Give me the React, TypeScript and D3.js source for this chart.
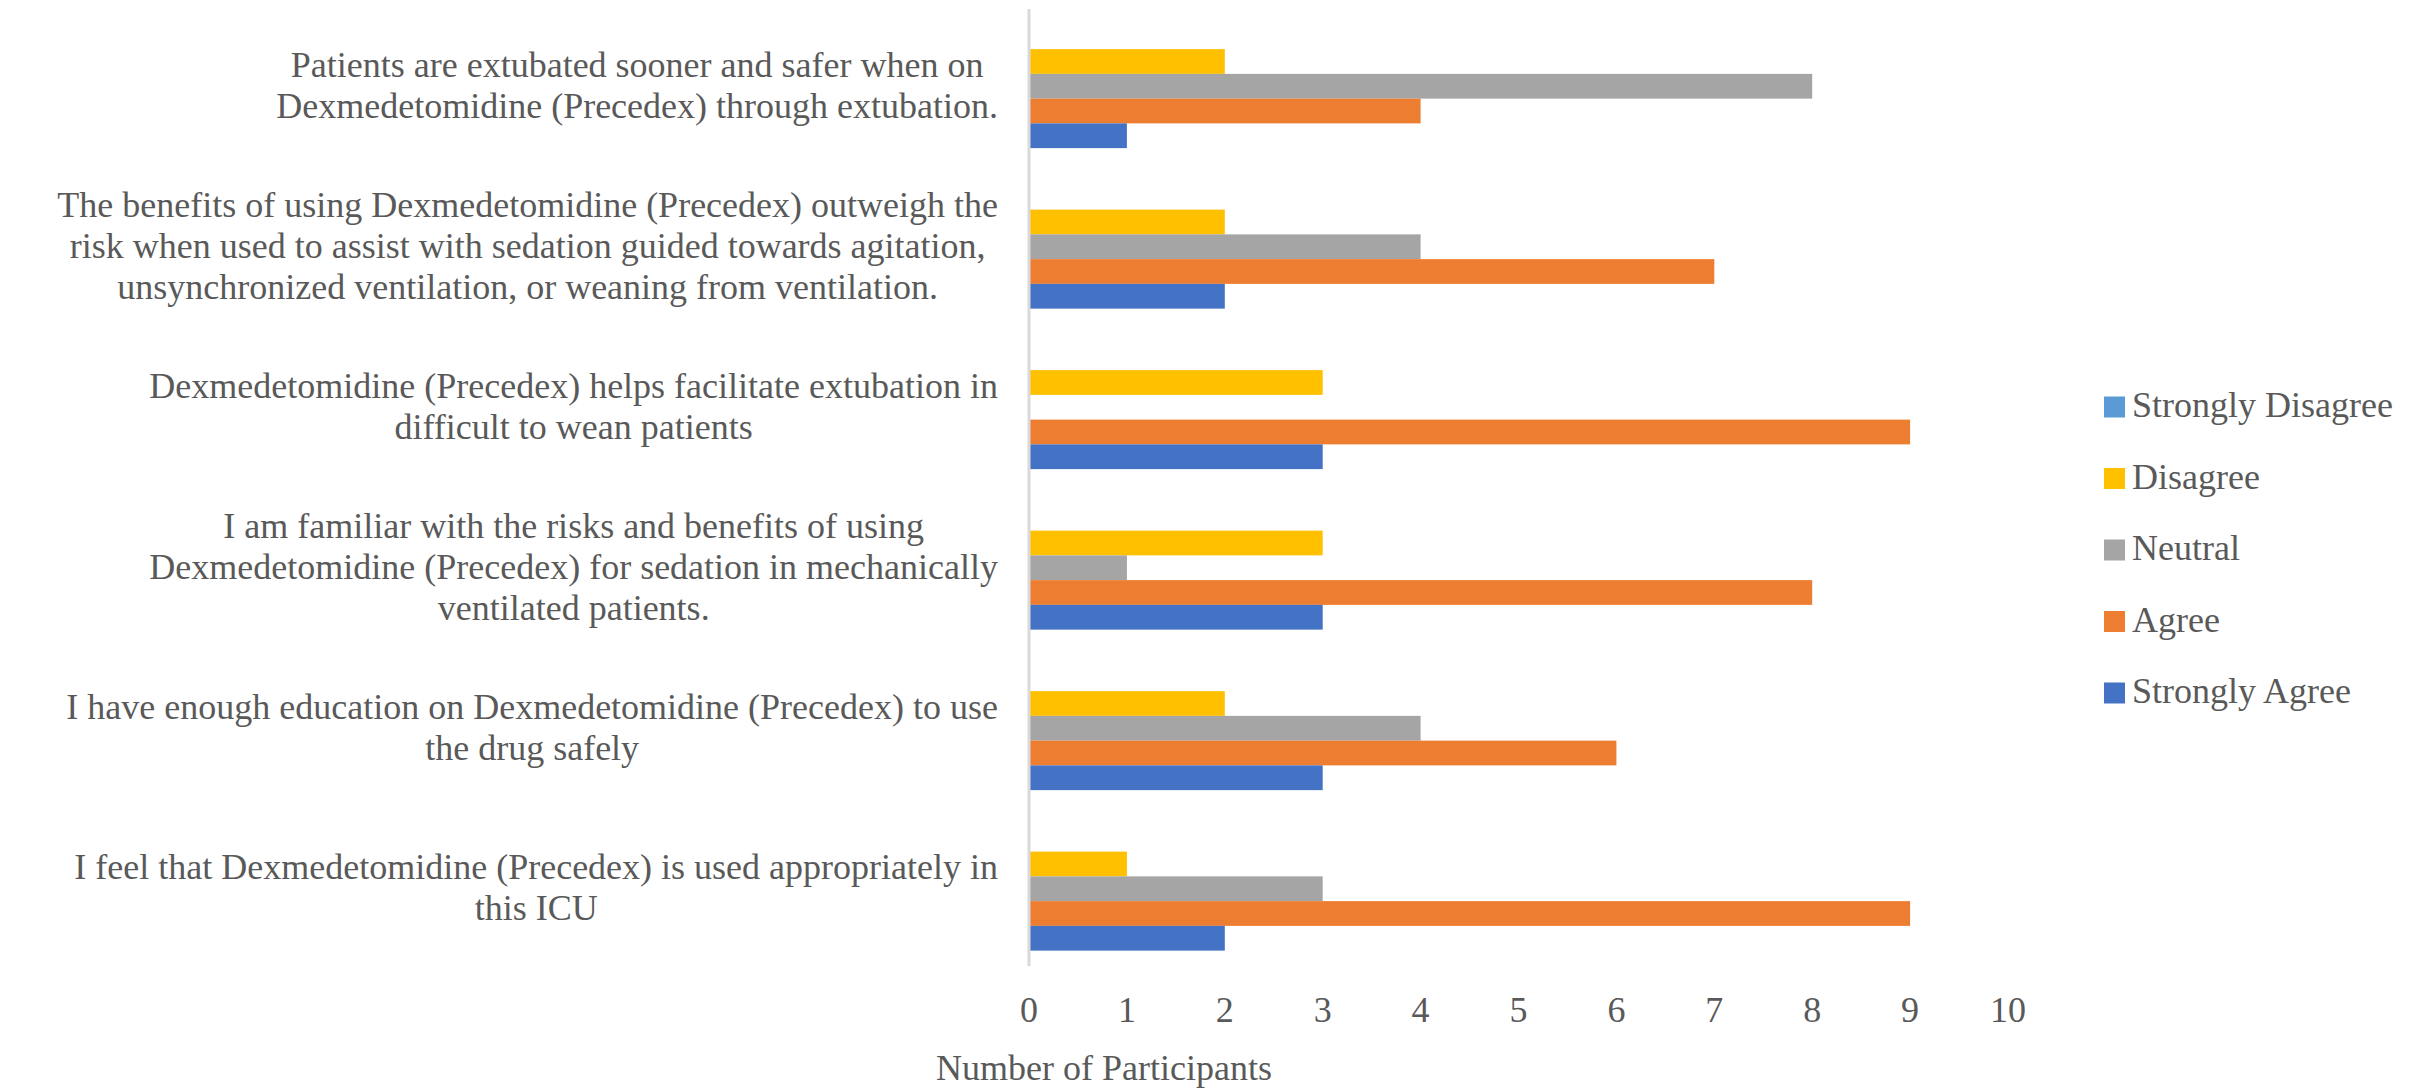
import { useEffect, useRef } from "react";
import * as d3 from "d3";

// Statements, top to bottom, already broken into lines as in the source chart
const CATEGORIES: string[][] = [
  ["Patients are extubated sooner and safer when on", "Dexmedetomidine (Precedex) through extubation."],
  [
    "The benefits of using Dexmedetomidine (Precedex) outweigh the",
    "risk when used to assist with sedation guided towards agitation,",
    "unsynchronized ventilation, or weaning from ventilation.",
  ],
  ["Dexmedetomidine (Precedex) helps facilitate extubation in", "difficult to wean patients"],
  [
    "I am familiar with the risks and benefits of using",
    "Dexmedetomidine (Precedex) for sedation in mechanically",
    "ventilated patients.",
  ],
  ["I have enough education on Dexmedetomidine (Precedex) to use", "the drug safely"],
  ["I feel that Dexmedetomidine (Precedex) is used appropriately in", "this ICU"],
];

// Series in the order they are stacked inside each group (top to bottom) and in the legend
const SERIES = ["Strongly Disagree", "Disagree", "Neutral", "Agree", "Strongly Agree"];
const SERIES_COLORS = ["#5B9BD5", "#FFC000", "#A5A5A5", "#ED7D31", "#4472C4"];

const STRONGLY_DISAGREE = [0, 0, 0, 0, 0, 0];
const DISAGREE = [2, 2, 3, 3, 2, 1];
const NEUTRAL = [8, 4, 0, 1, 4, 3];
const AGREE = [4, 7, 9, 8, 6, 9];
const STRONGLY_AGREE = [1, 2, 3, 3, 3, 2];

const X_TICKS = [0, 1, 2, 3, 4, 5, 6, 7, 8, 9, 10];
const X_LABEL = "Number of Participants";

const WIDTH = 2417;
const HEIGHT = 1091;
const PLOT = { left: 1029, right: 2008, top: 6, bottom: 969 };
const FONT = "'Liberation Serif', 'Times New Roman', serif";
const TEXT_COLOR = "#595959";

export default function App() {
  const svgRef = useRef<SVGSVGElement>(null);

  useEffect(() => {
    const svg = d3.select(svgRef.current);
    svg.selectAll("*").remove();

    svg.append("rect").attr("width", WIDTH).attr("height", HEIGHT).attr("fill", "#ffffff");

    const values = [STRONGLY_DISAGREE, DISAGREE, NEUTRAL, AGREE, STRONGLY_AGREE];

    const xScale = d3.scaleLinear().domain([0, 10]).range([PLOT.left, PLOT.right]);

    const yScale = d3
      .scaleBand<number>()
      .domain(d3.range(CATEGORIES.length))
      .range([PLOT.top, PLOT.bottom]);

    const bw = yScale.bandwidth();
    const gap = bw * 0.229;
    const subScale = d3
      .scaleBand<number>()
      .domain(d3.range(SERIES.length))
      .range([gap / 2, bw - gap / 2]);

    // Bars
    CATEGORIES.forEach((_, ci) => {
      const y0 = yScale(ci) ?? 0;
      SERIES.forEach((_, si) => {
        const v = values[si][ci];
        if (v <= 0) return;
        svg
          .append("rect")
          .attr("x", xScale(0))
          .attr("y", y0 + (subScale(si) ?? 0))
          .attr("width", xScale(v) - xScale(0))
          .attr("height", subScale.bandwidth())
          .attr("fill", SERIES_COLORS[si]);
      });
    });

    // Vertical axis line
    svg
      .append("line")
      .attr("x1", xScale(0))
      .attr("x2", xScale(0))
      .attr("y1", PLOT.top + 3)
      .attr("y2", PLOT.bottom - 3)
      .attr("stroke", "#d9d9d9")
      .attr("stroke-width", 3);

    // X tick labels
    X_TICKS.forEach((t) => {
      svg
        .append("text")
        .attr("x", xScale(t))
        .attr("y", 1022)
        .attr("text-anchor", "middle")
        .attr("font-size", "36px")
        .attr("font-family", FONT)
        .attr("fill", TEXT_COLOR)
        .text(String(t));
    });

    // X axis title
    svg
      .append("text")
      .attr("x", 1104)
      .attr("y", 1080)
      .attr("text-anchor", "middle")
      .attr("font-size", "36px")
      .attr("font-family", FONT)
      .attr("fill", TEXT_COLOR)
      .text(X_LABEL);

    // Category labels: lines centred on each other, block right-aligned
    const LABEL_RIGHT = 998;
    const LINE_H = 41;
    CATEGORIES.forEach((lines, ci) => {
      const cy = (yScale(ci) ?? 0) + bw / 2;
      const g = svg.append("g");
      let maxW = 0;
      lines.forEach((line, li) => {
        const t = g
          .append("text")
          .attr("x", 0)
          .attr("y", cy + (li - (lines.length - 1) / 2) * LINE_H + 11)
          .attr("text-anchor", "middle")
          .attr("font-size", "36px")
          .attr("font-family", FONT)
          .attr("fill", TEXT_COLOR)
          .text(line);
        const node = t.node() as SVGTextElement | null;
        maxW = Math.max(maxW, node ? node.getComputedTextLength() : 0);
      });
      g.attr("transform", `translate(${LABEL_RIGHT - maxW / 2},0)`);
    });

    // Legend
    const legend = svg.append("g").attr("transform", "translate(2104,407)");
    SERIES.forEach((name, si) => {
      const ly = si * 71.5;
      legend
        .append("rect")
        .attr("x", 0)
        .attr("y", ly - 10.5)
        .attr("width", 21)
        .attr("height", 21)
        .attr("fill", SERIES_COLORS[si]);
      legend
        .append("text")
        .attr("x", 28)
        .attr("y", ly + 10)
        .attr("font-size", "36px")
        .attr("font-family", FONT)
        .attr("fill", TEXT_COLOR)
        .text(name);
    });
  }, []);

  return (
    <svg
      ref={svgRef}
      width={WIDTH}
      height={HEIGHT}
      style={{ position: "absolute", left: 0, top: 0 }}
    />
  );
}
